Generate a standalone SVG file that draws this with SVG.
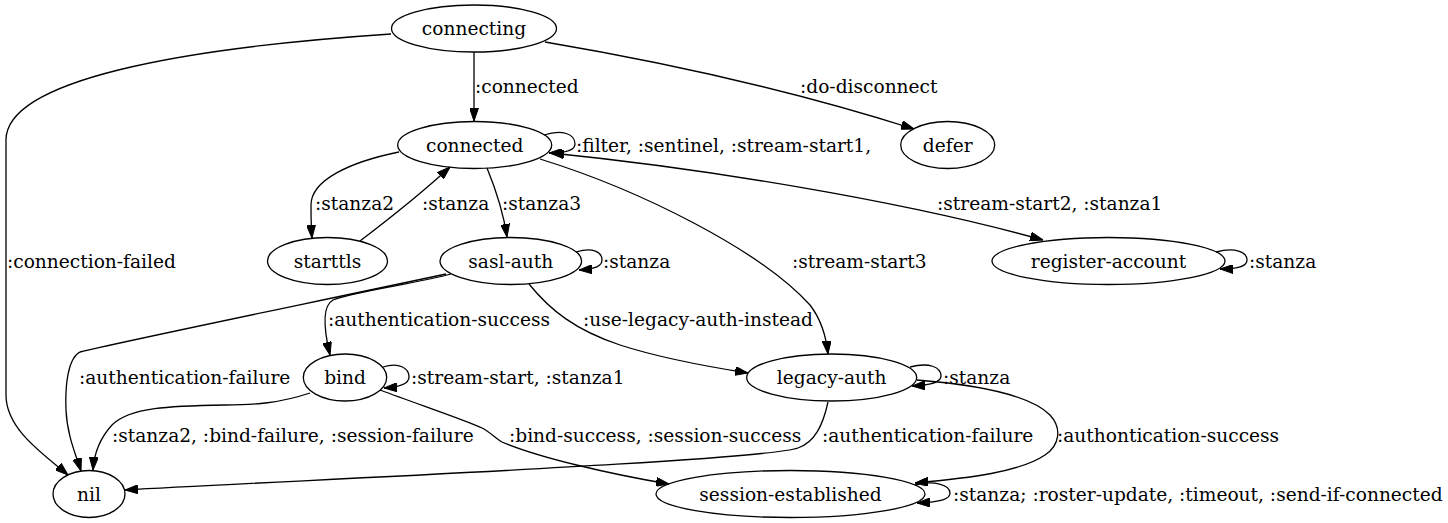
<svg xmlns="http://www.w3.org/2000/svg" width="1448" height="523" viewBox="0 0 1448 523">
<style>
text{font-family:"DejaVu Serif",serif;font-size:18.6px;fill:#000}
.n ellipse{fill:none;stroke:#000;stroke-width:1.3}
.n text{text-anchor:middle}
.e path{fill:none;stroke:#000;stroke-width:1.3;marker-end:url(#ah)}
</style>
<defs>
<marker id="ah" viewBox="0 0 13 9" refX="13" refY="4.5" markerWidth="13" markerHeight="9" markerUnits="userSpaceOnUse" orient="auto"><path d="M0,0 L13,4.5 L0,9 z" fill="#000" stroke="#000" stroke-width="1"/></marker>
<marker id="ahs" viewBox="0 0 13 9" refX="13" refY="4.5" markerWidth="13" markerHeight="9" markerUnits="userSpaceOnUse" orient="auto-start-reverse"><path d="M0,0 L13,4.5 L0,9 z" fill="#000" stroke="#000" stroke-width="1"/></marker>
</defs>
<rect width="1448" height="523" fill="#fff"/>
<g id="connectors" class="e">
<g><path d="M474,52 L474,121"/><text x="475" y="93">:connected</text></g>
<g><path d="M545,42 C610,53 760,80 914,129"/><text x="800" y="93">:do-disconnect</text></g>
<g><path d="M391,34 C180,48 6,80 6,140 L6,395 C6,430 45,455 68,475"/><text x="7" y="267.5">:connection-failed</text></g>
<g><path d="M544,135 C562,129 575,134 575,144 C575,150 568,153 549,153"/><text x="576" y="151.5">:filter, :sentinel, :stream-start1,</text></g>
<g><path d="M399,152 C350,162 311,180 311,205 C311,215 311,225 312,238"/><text x="315" y="209.5">:stanza2</text></g>
<g><path d="M360,241 C385,222 425,190 450,167"/><text x="422" y="209.5">:stanza</text></g>
<g><path d="M487,168 C494,185 503,210 507,237"/><text x="502" y="209.5">:stanza3</text></g>
<g><path style="marker-start:url(#ahs);marker-end:url(#ahs)" d="M551,153 C700,168 900,200 1043,240"/><text x="937" y="209.5">:stream-start2, :stanza1</text></g>
<g><path d="M540,159 C640,190 760,250 810,305 C820,318 826,335 828,354"/><text x="792" y="267.5">:stream-start3</text></g>
<g><path d="M576,252 C593,247 602,252 602,260 C602,266 596,269 579,270"/><text x="603" y="267.5">:stanza</text></g>
<g><path d="M1216,252 C1235,247 1247,252 1247,260 C1247,266 1240,269 1220,269"/><text x="1249" y="267.5">:stanza</text></g>
<g><path d="M451,274 C420,283 350,292 333,300 C322,306 324,330 330,355"/><text x="328" y="325.5">:authentication-success</text></g>
<g><path d="M446,274 C300,305 120,342 80,352 C68,358 65,385 66,410 C67,435 76,455 81,471"/><text x="79" y="384">:authentication-failure</text></g>
<g><path d="M529,284 C550,310 575,330 620,345 C660,358 710,367 748,373"/><text x="583" y="325.5">:use-legacy-auth-instead</text></g>
<g><path d="M383,367 C399,362 409,368 409,377 C409,383 402,387 384,388"/><text x="411" y="384">:stream-start, :stanza1</text></g>
<g><path d="M310,393 C280,403 255,405 225,405 C170,406 130,407 112,425 C100,438 94,455 93,470"/><text x="112" y="442">:stanza2, :bind-failure, :session-failure</text></g>
<g><path d="M380,390 C420,405 465,420 482,428 C490,432 495,438 502,442 C540,458 610,474 669,484"/><text x="509" y="442">:bind-success, :session-success</text></g>
<g><path d="M910,367 C929,362 941,367 941,376 C941,382 933,385 912,386"/><text x="943" y="384">:stanza</text></g>
<g><path d="M828,402 C823,425 815,442 798,448 C760,461 300,480 125,490"/><text x="822" y="442">:authentication-failure</text></g>
<g><path d="M917,380 C980,385 1030,395 1050,415 C1062,428 1060,445 1045,455 C1020,472 970,478 915,483"/><text x="1057" y="442">:authontication-success</text></g>
<g><path d="M915,485 C934,480 950,485 950,493 C950,499 942,502 917,503"/><text x="953" y="500.5">:stanza; :roster-update, :timeout, :send-if-connected</text></g>
</g>
<g id="node-connecting" class="n"><ellipse cx="474" cy="28.5" rx="82.5" ry="23.5"/><text x="474" y="35">connecting</text></g>
<g id="node-connected" class="n"><ellipse cx="474.7" cy="145" rx="77" ry="23.5"/><text x="474.7" y="151.5">connected</text></g>
<g id="node-defer" class="n"><ellipse cx="947.7" cy="145" rx="47" ry="23.5"/><text x="947.7" y="151.5">defer</text></g>
<g id="node-starttls" class="n"><ellipse cx="327.5" cy="261" rx="60" ry="23.5"/><text x="327.5" y="267.5">starttls</text></g>
<g id="node-sasl-auth" class="n"><ellipse cx="510.8" cy="261" rx="70.8" ry="23.5"/><text x="510.8" y="267.5">sasl-auth</text></g>
<g id="node-register-account" class="n"><ellipse cx="1108.5" cy="261" rx="116.5" ry="23.5"/><text x="1108.5" y="267.5">register-account</text></g>
<g id="node-bind" class="n"><ellipse cx="345" cy="377.5" rx="41.7" ry="23.5"/><text x="345" y="384">bind</text></g>
<g id="node-legacy-auth" class="n"><ellipse cx="831.7" cy="377.5" rx="85" ry="23.5"/><text x="831.7" y="384">legacy-auth</text></g>
<g id="node-nil" class="n"><ellipse cx="89" cy="494" rx="36" ry="23.5"/><text x="89" y="500.5">nil</text></g>
<g id="node-session-established" class="n"><ellipse cx="790.5" cy="494" rx="134.5" ry="23.5"/><text x="790.5" y="500.5">session-established</text></g>
</svg>
